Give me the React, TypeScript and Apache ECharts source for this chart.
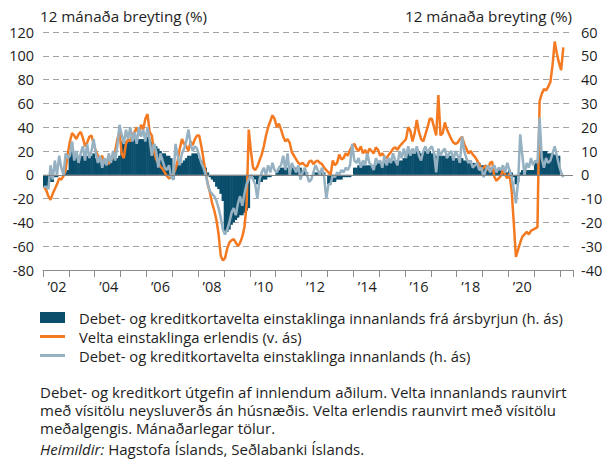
import { useEffect, useRef } from "react";
import * as echarts from "echarts";

const FONT = '"Open Sans", sans-serif';
const TEXT = "#1e1e1e";

// Axis: monthly categories Jan 2002 – Jun 2022
const firstYear = 2002;
const axisMonths = 246;
const months: string[] = [];
for (let i = 0; i < axisMonths; i++) {
  const y = firstYear + Math.floor(i / 12);
  const m = (i % 12) + 1;
  months.push(`${y}-${m < 10 ? "0" + m : m}`);
}

const leftAxis = { min: -80, max: 120, interval: 20 };
const rightAxis = { min: -40, max: 60, interval: 10 };

const barName = "Debet- og kreditkortavelta einstaklinga innanlands frá ársbyrjun (h. ás)";
const foreignName = "Velta einstaklinga erlendis (v. ás)";
const domesticName = "Debet- og kreditkortavelta einstaklinga innanlands (h. ás)";

// Debet- og kreditkortavelta innanlands frá ársbyrjun (h. ás), 2002-01 .. 2021-12
const ytdDomestic = [
  -5, -5, -5, -3, -3, -1, -1, 0, 0, 0, 1, 2,
  8, 10, 9, 9, 8, 8, 8, 8, 8, 8, 8, 9,
  7, 6, 6, 6, 6, 6, 6, 6, 7, 7, 7, 8,
  14, 13, 14, 14, 15, 15, 15, 15, 15, 15, 15, 15,
  16, 15, 14, 13, 12, 11, 10, 9, 9, 8, 8, 7,
  -2, 3, 4, 5, 5, 6, 7, 8, 8, 9, 9, 9,
  7, 6, 5, 3, 1, -1, -2, -3, -5, -6, -8, -11,
  -25, -24, -23, -21, -20, -19, -18, -17, -17, -16, -15, -14,
  0, -1, -2, -4, -3, -3, -2, -2, -1, -1, 0, 0,
  1, 2, 3, 3, 3, 3, 3, 3, 3, 3, 3, 3,
  1, 2, 1, 0, 0, 0, 1, 1, 1, 1, 1, 0,
  -4, -4, -3, -3, -2, -2, -2, -1, -1, -1, -1, 0,
  3, 3, 4, 4, 4, 4, 4, 4, 4, 4, 4, 5,
  5, 5, 5, 5, 6, 6, 6, 6, 6, 6, 6, 7,
  8, 9, 9, 9, 9, 10, 10, 9, 9, 10, 10, 10,
  9, 9, 8, 8, 8, 8, 8, 8, 8, 8, 7, 7,
  7, 7, 7, 6, 6, 6, 6, 5, 5, 5, 5, 4,
  4, 3, 3, 3, 3, 2, 2, 2, 2, 2, 1, 1,
  2, 1, -1, -4, -3, 1, 2, 2, 2, 2, 2, 2,
  5, 6, 10, 10, 10, 10, 9, 9, 9, 8.5, 8, 8,
];

// Velta einstaklinga erlendis (v. ás), 2002-01 .. 2022-02
const foreign = [
  -10, -13, -18, -21, -16, -12, -8, -3, -4, -1, 4, 18,
  28, 35, 33, 30, 34, 36, 31, 24, 27, 32, 33, 26,
  20, 16, 13, 16, 10, 13, 9, 12, 15, 20, 30, 36,
  18, 14, 26, 30, 28, 34, 36, 40, 33, 42, 38, 47,
  51, 36, 33, 20, 13, 10, 7, 5, 2, -1, -3, -2,
  0, 5, 12, 22, 30, 26, 24, 20, 28, 25, 30, 33,
  33, 24, 13, 2, -8, -15, -24, -30, -38, -50, -68, -72,
  -70, -62, -57, -55, -54, -57, -60, -57, -52, -44, -25, 38,
  20, 6, 4, 7, 12, 17, 24, 33, 40, 45, 50, 47,
  40, 43, 38, 32, 28, 30, 27, 19, 16, 13, 10, 9,
  10, 8, 7, 11, 12, 9, 11, 12, 10, 9, 6, 4,
  2, 0, 12, 8, 10, 17, 13, 14, 18, 16, 21, 24,
  26, 22, 20, 24, 18, 21, 17, 22, 20, 18, 23, 21,
  16, 18, 15, 14, 17, 19, 22, 23, 21, 24, 26, 28,
  30, 40, 37, 28, 35, 46, 36, 30, 28, 34, 40, 47,
  47, 40, 33, 67, 33, 35, 44, 38, 34, 30, 27, 26,
  27, 30, 32, 26, 22, 18, 20, 17, 15, 12, 9, 4,
  6, 8, 4, 10, 11, -2, -5, -3, -1, 4, 0, -3,
  1, -13, -40, -69, -63, -57, -52, -50, -48, -50, -47, -46,
  -45, -44, 62, 68, 72, 71, 74, 78, 92, 112, 102, 94,
  88, 107,
];

// Debet- og kreditkortavelta einstaklinga innanlands (h. ás), 2002-01 .. 2022-02
const domestic = [
  -5, -5, -6, 4, -2, 6, 0, 8, 3, 0, 9, 7,
  8, 14, 6, 10, 5, 9, 12, 6, 13, 7, 10, 15,
  9, 5, 8, 3, 7, 4, 9, 5, 10, 6, 12, 21,
  17, 13, 19, 15, 20, 14, 18, 13, 20, 16, 19, 14,
  20, 15, 8, 13, 10, 3, 9, 6, 3, 2, 4, -1,
  -2, 13, 8, 4, 9, 11, 14, 19, 13, 10, 12, 11,
  8, 5, 3, 0, -4, -7, -8, -9, -11, -14, -18, -23,
  -25, -23, -20, -16, -14, -17, -12, -9, -13, -8, -4, -2,
  0, -2, -4, -10, -2, 1, 3, 0, 4, 1, 5, 2,
  1, 3, 4, 8, 2, 9, 0, 5, 3, 1, 4, -2,
  1, 3, 0, -3, -2, 1, 4, 2, 0, 3, -1, -10,
  -4, -4, 0, -1, 1, 0, 2, 1, 3, 2, 4, 13,
  6, 5, 7, 3, 6, 4, 9, 5, 4, 2, 7, 5,
  6, 3, 8, 4, 7, 5, 9, 6, 4, 10, 7, 11,
  7, 12, 8, 11, 9, 12, 8, 6, 10, 12, 9, 11,
  12, 9, 1, 11, 8, 10, 11, 7, 9, 10, 6, 10,
  8, 5, 16, 10, 7, 5, 6, 3, 4, 5, 2, 3,
  -1, 2, 4, 1, 3, 4, 1, 3, 2, 4, 1, 5,
  2, -1, -6, -12, -3, 17, 8, 0, 5, 3, 7, 4,
  6, 5, 24, 7, 3, 7, 5, 6, 9, 12, 8, 4,
  1, -1,
];

const axisTitle = "12 mánaða breyting (%)";
const noteLines = [
  "Debet- og kreditkort útgefin af innlendum aðilum. Velta innanlands raunvirt",
  "með vísitölu neysluverðs án húsnæðis. Velta erlendis raunvirt með vísitölu",
  "meðalgengis. Mánaðarlegar tölur.",
];
const sourceLabel = "Heimildir:";
const sourceText = " Hagstofa Íslands, Seðlabanki Íslands.";

const BAR = "#0a4e6c";
const ORANGE = "#f47a22";
const BLUE = "#96b1c2";

export default function App() {
  const ref = useRef<HTMLDivElement>(null);

  useEffect(() => {
    if (!ref.current) return;
    const chart = echarts.init(ref.current, undefined, { renderer: "svg" });

    const lineIcon = "path://M0,0H25V3H0Z";
    const noteStyle = { fontSize: 15, fontFamily: FONT, fill: TEXT, lineHeight: 16 };
    const titleStyle = { fontSize: 15.2, fontFamily: FONT, fill: TEXT };
    const noteTops = [383.8, 402, 420.2];

    const option: any = {
      animation: false,
      textStyle: { fontFamily: FONT },
      grid: { left: 43, right: 38, top: 32, bottom: 189 },
      xAxis: [
        {
          type: "category",
          data: months,
          boundaryGap: true,
          axisLine: { onZero: false, lineStyle: { color: "#8c8c8c", width: 1 } },
          axisTick: { show: true, interval: 11, length: 7, lineStyle: { color: "#8c8c8c" } },
          axisLabel: {
            interval: (i: number) => i % 24 === 6,
            formatter: (v: string) => "\u2019" + v.slice(2, 4),
            color: TEXT,
            fontSize: 14.5,
            fontFamily: FONT,
            margin: 9,
          },
          splitLine: { show: false },
        },
      ],
      yAxis: [
        {
          type: "value",
          position: "left",
          ...leftAxis,
          axisLine: { show: false },
          axisTick: { show: false },
          axisLabel: { color: TEXT, fontSize: 14.5, fontFamily: FONT, margin: 9 },
          splitLine: { show: true, lineStyle: { color: "#a3a3a3", type: [6, 4], width: 1 } },
        },
        {
          type: "value",
          position: "right",
          ...rightAxis,
          axisLine: { show: false },
          axisTick: { show: false },
          axisLabel: { color: TEXT, fontSize: 14.5, fontFamily: FONT, margin: 8 },
          splitLine: { show: false },
        },
      ],
      legend: {
        orient: "vertical",
        left: 40,
        top: 310,
        padding: 0,
        itemWidth: 25,
        itemHeight: 11,
        itemGap: 4,
        selectedMode: false,
        textStyle: { color: TEXT, fontSize: 14.8, fontFamily: FONT, padding: [0, 0, 0, 9] },
        data: [
          { name: barName, icon: "rect" },
          { name: foreignName, icon: lineIcon },
          { name: domesticName, icon: lineIcon },
        ],
      },
      graphic: [
        { type: "text", left: 40, top: 8, style: { ...titleStyle, text: axisTitle } },
        { type: "text", right: 39, top: 8, style: { ...titleStyle, text: axisTitle } },
        ...noteLines.map((t, k) => ({
          type: "text",
          left: 40,
          top: noteTops[k],
          style: { ...noteStyle, text: t },
        })),
        {
          type: "text",
          left: 40,
          top: 441,
          style: {
            ...noteStyle,
            text: `{i|${sourceLabel}}${sourceText}`,
            rich: { i: { fontStyle: "italic", fontSize: 15, fontFamily: FONT, fill: TEXT, lineHeight: 16 } },
          },
        },
      ],
      series: [
        {
          name: barName,
          type: "bar",
          yAxisIndex: 1,
          data: ytdDomestic,
          barWidth: 2.7,
          barGap: "-100%",
          itemStyle: { color: BAR },
          markLine: {
            silent: true,
            symbol: "none",
            label: { show: false },
            lineStyle: { color: "#858585", type: "solid", width: 1 },
            data: [{ yAxis: 0 }],
          },
        },
        {
          name: foreignName,
          type: "line",
          yAxisIndex: 0,
          data: foreign,
          symbol: "none",
          lineStyle: { color: ORANGE, width: 2.5 },
          itemStyle: { color: ORANGE },
        },
        {
          name: domesticName,
          type: "line",
          yAxisIndex: 1,
          data: domestic,
          symbol: "none",
          lineStyle: { color: BLUE, width: 2.5 },
          itemStyle: { color: BLUE },
        },
      ],
    };

    chart.setOption(option);
    return () => chart.dispose();
  }, []);

  return <div ref={ref} style={{ width: 611, height: 459, position: "absolute", left: 0, top: 0 }} />;
}
